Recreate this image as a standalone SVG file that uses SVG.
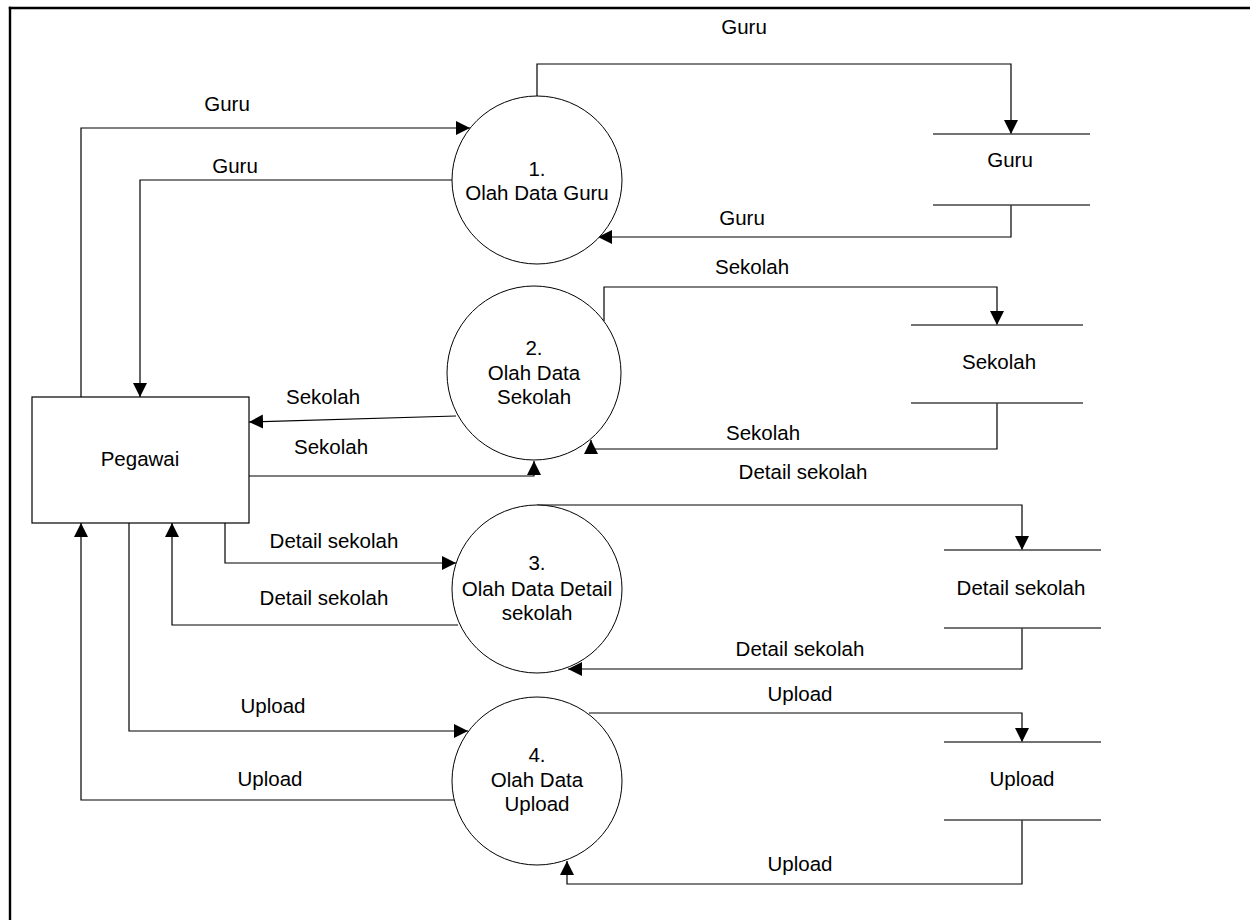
<svg xmlns="http://www.w3.org/2000/svg" width="1250" height="920" viewBox="0 0 1250 920">
<style>
text{font-family:"Liberation Sans",Arial,sans-serif;font-size:20.5px;fill:#000;text-anchor:middle}
.ln{fill:none;stroke:#000;stroke-width:1.2}
.proc{fill:#fff;stroke:#000;stroke-width:1}
.store{stroke:#444;stroke-width:1.5}
.frame{stroke:#000;stroke-width:2.4}
</style>
<defs>
<marker id="ah" markerUnits="userSpaceOnUse" markerWidth="15" markerHeight="15" refX="14" refY="7" orient="auto">
<path d="M0,0 L14,7 L0,14 z" fill="#000"/>
</marker>
</defs>
<rect x="0" y="0" width="1250" height="920" fill="#fff"/>
<line class="frame" x1="8.8" y1="8" x2="1250" y2="8"/>
<line class="frame" x1="10" y1="6.8" x2="10" y2="920"/>

<g id="connectors">
<polyline class="ln" points="81,397 81,128 470,128" marker-end="url(#ah)"/>
<text x="227" y="111">Guru</text>
<polyline class="ln" points="452,180 140,180 140,397" marker-end="url(#ah)"/>
<text x="235" y="173">Guru</text>
<polyline class="ln" points="537,96 537,64 1011,64 1011,134" marker-end="url(#ah)"/>
<text x="744" y="34">Guru</text>
<polyline class="ln" points="1011,205 1011,237 598,237" marker-end="url(#ah)"/>
<text x="742" y="225">Guru</text>

<polyline class="ln" points="604,321 604,287 997,287 997,325" marker-end="url(#ah)"/>
<text x="752" y="274">Sekolah</text>
<polyline class="ln" points="997,403 997,449 591,449 591,440" marker-end="url(#ah)"/>
<text x="763" y="440">Sekolah</text>
<line class="ln" x1="456" y1="416" x2="249" y2="422" marker-end="url(#ah)"/>
<text x="323" y="404">Sekolah</text>
<polyline class="ln" points="249,476 534,476 534,461" marker-end="url(#ah)"/>
<text x="331" y="454">Sekolah</text>

<polyline class="ln" points="537,505 1022,505 1022,550" marker-end="url(#ah)"/>
<text x="803" y="479">Detail sekolah</text>
<polyline class="ln" points="1022,628 1022,669 568,669" marker-end="url(#ah)"/>
<text x="800" y="656">Detail sekolah</text>
<polyline class="ln" points="225,523 225,563 456,563" marker-end="url(#ah)"/>
<text x="334" y="548">Detail sekolah</text>
<polyline class="ln" points="458,625 172,625 172,523" marker-end="url(#ah)"/>
<text x="324" y="605">Detail sekolah</text>

<polyline class="ln" points="129,523 129,731 468,731" marker-end="url(#ah)"/>
<text x="273" y="713">Upload</text>
<polyline class="ln" points="454,800 81,800 81,523" marker-end="url(#ah)"/>
<text x="270" y="786">Upload</text>
<polyline class="ln" points="589,713 1022,713 1022,742" marker-end="url(#ah)"/>
<text x="800" y="701">Upload</text>
<polyline class="ln" points="1022,820 1022,884 567,884 567,861" marker-end="url(#ah)"/>
<text x="800" y="871">Upload</text>
</g>

<g id="pegawai">
<rect x="32" y="397" width="217" height="126" fill="#fff" stroke="#000" stroke-width="1.2"/>
<text x="140" y="466">Pegawai</text>
</g>

<g id="p1">
<ellipse class="proc" cx="537" cy="180" rx="85" ry="84"/>
<text x="537" y="176">1.</text>
<text x="537" y="200">Olah Data Guru</text>
</g>
<g id="p2">
<ellipse class="proc" cx="534" cy="373" rx="87" ry="87"/>
<text x="534" y="355">2.</text>
<text x="534" y="380">Olah Data</text>
<text x="534" y="404">Sekolah</text>
</g>
<g id="p3">
<ellipse class="proc" cx="537" cy="589" rx="85" ry="84"/>
<text x="537" y="570">3.</text>
<text x="537" y="596">Olah Data Detail</text>
<text x="537" y="620">sekolah</text>
</g>
<g id="p4">
<ellipse class="proc" cx="537" cy="781" rx="85" ry="84"/>
<text x="537" y="762">4.</text>
<text x="537" y="787">Olah Data</text>
<text x="537" y="811">Upload</text>
</g>

<g id="s-guru">
<line class="store" x1="933" y1="134" x2="1090" y2="134"/>
<line class="store" x1="933" y1="205" x2="1090" y2="205"/>
<text x="1010" y="167">Guru</text>
</g>
<g id="s-sekolah">
<line class="store" x1="911" y1="325" x2="1083" y2="325"/>
<line class="store" x1="911" y1="403" x2="1083" y2="403"/>
<text x="999" y="369">Sekolah</text>
</g>
<g id="s-detail">
<line class="store" x1="944" y1="550" x2="1101" y2="550"/>
<line class="store" x1="944" y1="628" x2="1101" y2="628"/>
<text x="1021" y="595">Detail sekolah</text>
</g>
<g id="s-upload">
<line class="store" x1="944" y1="742" x2="1101" y2="742"/>
<line class="store" x1="944" y1="820" x2="1101" y2="820"/>
<text x="1022" y="786">Upload</text>
</g>
</svg>
